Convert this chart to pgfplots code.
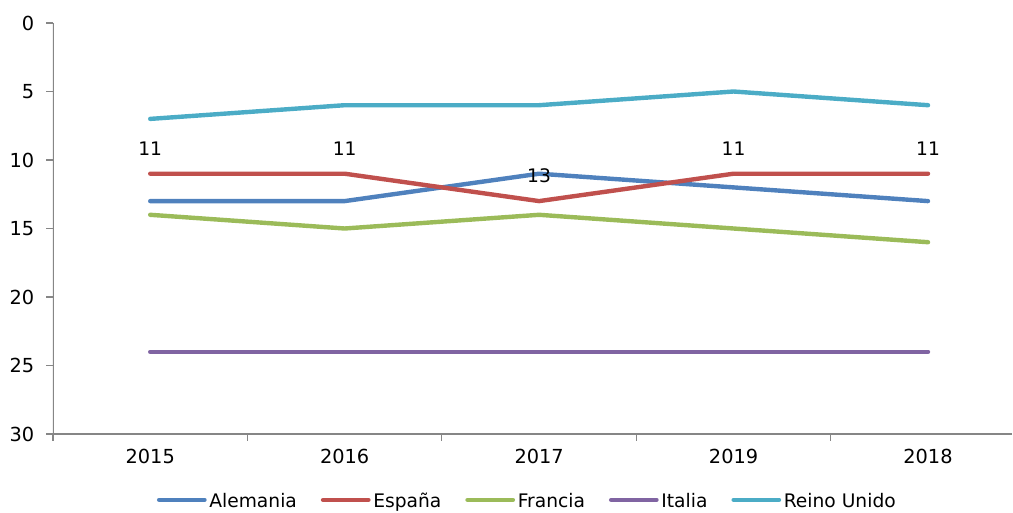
\documentclass[border=0pt]{standalone}
\usepackage{pgfplots}
\pgfplotsset{compat=1.18}
\usepackage{fontspec}
\setmainfont{DejaVu Sans}
\definecolor{cAle}{HTML}{4F81BD}
\definecolor{cEsp}{HTML}{C0504D}
\definecolor{cFra}{HTML}{9BBB59}
\definecolor{cIta}{HTML}{8064A2}
\definecolor{cRei}{HTML}{4BACC6}
\definecolor{axgray}{HTML}{868686}
\begin{document}
\begin{tikzpicture}
\useasboundingbox (-39.75pt,-59.25pt) rectangle (720pt,325.5pt);
\begin{axis}[
  scale only axis,
  width=719.25pt, height=308.25pt,
  xmin=-0.5, xmax=4.432,
  ymin=0, ymax=30,
  y dir=reverse,
  ytick={0,5,...,30},
  xtick={0,1,2,3,4},
  xticklabels={2015,2016,2017,2019,2018},
  minor xtick={-0.5,0.5,1.5,2.5,3.5},
  major x tick style={draw=none},
  minor tick length=5pt,
  major tick length=5pt,
  tick style={axgray, line width=0.8pt},
  tick align=outside,
  ytick pos=left,
  xtick pos=left,
  xticklabel pos=left,
  x axis line style={draw=none},
  y axis line style={draw=none},
  axis line style={draw=none},
  /pgf/number format/assume math mode=true,
  tick label style={font=\fontsize{14.5pt}{17pt}\selectfont, text=black},
  xticklabel style={yshift=-3pt},
  yticklabel style={xshift=-5.5pt},
  legend columns=5,
  legend style={at={(0.495,-0.17)}, anchor=center, draw=none,
    font=\fontsize{14pt}{17pt}\selectfont,
    nodes={text height=0.75em, text depth=0.22em},
    /tikz/every even column/.append style={column sep=16pt}},
  legend image code/.code={\draw[#1, line width=3.3pt] (0pt,0.3em) -- (34pt,0.3em);},
  every axis plot/.append style={line width=3.3pt, line join=round, line cap=round},
]
\addplot[cAle, mark=none] coordinates {(0,13) (1,13) (2,11) (3,12) (4,13)};
\addlegendentry{Alemania}
\addplot[cEsp, mark=none, nodes near coords,
  every node near coord/.append style={anchor=center, yshift=19pt, text=black,
    font=\fontsize{14pt}{17pt}\selectfont},
  /pgf/number format/assume math mode=true]
  coordinates {(0,11) (1,11) (2,13) (3,11) (4,11)};
\addlegendentry{España}
\addplot[cFra, mark=none] coordinates {(0,14) (1,15) (2,14) (3,15) (4,16)};
\addlegendentry{Francia}
\addplot[cIta, mark=none] coordinates {(0,24) (1,24) (2,24) (3,24) (4,24)};
\addlegendentry{Italia}
\addplot[cRei, mark=none] coordinates {(0,7) (1,6) (2,6) (3,5) (4,6)};
\addlegendentry{Reino Unido}
\draw[axgray, line width=0.8pt] (axis cs:-0.5,0) -- (axis cs:-0.5,30) -- (axis cs:4.432,30);
\end{axis}
\end{tikzpicture}
\end{document}
